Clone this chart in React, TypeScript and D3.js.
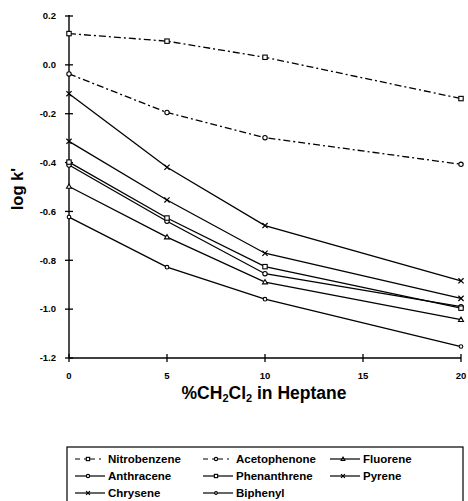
import React from "react";
import * as d3 from "d3";

const xValues = [0, 5, 10, 20];
const xTicks = [0, 5, 10, 15, 20];
const yTicks = [0.2, 0.0, -0.2, -0.4, -0.6, -0.8, -1.0, -1.2];

const seriesNames = ["Nitrobenzene", "Acetophenone", "Fluorene", "Anthracene", "Phenanthrene", "Pyrene", "Chrysene", "Biphenyl"];
const nitrobenzene = [0.128, 0.097, 0.031, -0.138];
const acetophenone = [-0.037, -0.195, -0.298, -0.407];
const fluorene = [-0.498, -0.705, -0.889, -1.043];
const anthracene = [-0.41, -0.64, -0.855, -0.99];
const phenanthrene = [-0.398, -0.627, -0.826, -0.996];
const pyrene = [-0.313, -0.553, -0.771, -0.956];
const chrysene = [-0.118, -0.419, -0.658, -0.884];
const biphenyl = [-0.623, -0.828, -0.959, -1.153];

const seriesValues = [nitrobenzene, acetophenone, fluorene, anthracene, phenanthrene, pyrene, chrysene, biphenyl];
const seriesMarkers = ["square", "circle", "triangle", "circle", "square", "x", "x", "dot"];
const seriesDashed = [true, true, false, false, false, false, false, false];

const FONT = "'Liberation Sans', Arial, Helvetica, sans-serif";
const DASH = "7,3,2,3";

function Marker({ type, x, y, s = 1 }: { type: string; x: number; y: number; s?: number }) {
  const sw = 1.1;
  if (type === "square")
    return <rect x={x - 2.2 * s} y={y - 2.2 * s} width={4.4 * s} height={4.4 * s} fill="white" stroke="black" strokeWidth={sw} />;
  if (type === "circle")
    return <circle cx={x} cy={y} r={2.2 * s} fill="white" stroke="black" strokeWidth={sw} />;
  if (type === "dot")
    return <circle cx={x} cy={y} r={1.8 * s} fill="white" stroke="black" strokeWidth={sw} />;
  if (type === "triangle")
    return <path d={`M${x},${y - 2.5 * s}L${x + 2.5 * s},${y + 1.8 * s}L${x - 2.5 * s},${y + 1.8 * s}Z`} fill="white" stroke="black" strokeWidth={sw} />;
  return (
    <path d={`M${x - 2.6 * s},${y - 2.6 * s}L${x + 2.6 * s},${y + 2.6 * s}M${x - 2.6 * s},${y + 2.6 * s}L${x + 2.6 * s},${y - 2.6 * s}`} stroke="black" strokeWidth={1.2} fill="none" />
  );
}

export default function App() {
  const W = 468, H = 501;
  const x = d3.scaleLinear().domain([0, 20]).range([69, 461]);
  const y = d3.scaleLinear().domain([-1.2, 0.2]).range([358, 16]);
  const line = d3.line<number>().x((_, i) => x(xValues[i])).y((d) => y(d));

  const legendCols = [75, 203, 330];
  const legendRows = [459, 476, 493];

  return (
    <svg width={W} height={H} style={{ position: "absolute", left: 0, top: 0, background: "white" }} fontFamily={FONT}>
      <rect x={0} y={0} width={W} height={H} fill="white" />
      {/* axes */}
      <line x1={x(0)} x2={x(0)} y1={y(0.2) - 1} y2={y(-1.2)} stroke="black" strokeWidth={1.4} />
      <line x1={x(0)} x2={x(20)} y1={y(-1.2)} y2={y(-1.2)} stroke="black" strokeWidth={1.4} />
      {yTicks.map((t) => (
        <g key={"y" + t}>
          <line x1={x(0) - 4} x2={x(0) + 4} y1={y(t)} y2={y(t)} stroke="black" strokeWidth={1.3} />
          <text x={56} y={y(t)} dy="0.35em" textAnchor="end" fontSize={9.5} fontWeight="bold">
            {d3.format(".1f")(t).replace("−", "-")}
          </text>
        </g>
      ))}
      {xTicks.map((t) => (
        <g key={"x" + t}>
          <line x1={x(t)} x2={x(t)} y1={y(-1.2) - 4} y2={y(-1.2) + 4} stroke="black" strokeWidth={1.3} />
          <text x={x(t)} y={376} dy="0.35em" textAnchor="middle" fontSize={9.5} fontWeight="bold">
            {t}
          </text>
        </g>
      ))}
      <text x={264} y={399} textAnchor="middle" fontSize={17.5} fontWeight="bold">
        %CH<tspan fontSize={11} dy={3}>2</tspan>
        <tspan dy={-3}>Cl</tspan>
        <tspan fontSize={11} dy={3}>2</tspan>
        <tspan dy={-3}> in Heptane</tspan>
      </text>
      <text transform="translate(23,189) rotate(-90)" textAnchor="middle" fontSize={16.5} fontWeight="bold">
        log k'
      </text>

      {/* series */}
      {seriesValues.map((vals, si) => (
        <g key={seriesNames[si]}>
          <path
            d={line(vals) || ""}
            fill="none"
            stroke="black"
            strokeWidth={1.3}
            strokeDasharray={seriesDashed[si] ? DASH : undefined}
          />
          {vals.map((v, i) => (
            <Marker key={i} type={seriesMarkers[si]} x={x(xValues[i])} y={y(v)} />
          ))}
        </g>
      ))}

      {/* legend */}
      <rect x={67} y={447} width={396} height={70} fill="none" stroke="black" strokeWidth={1.2} />
      {seriesNames.map((name, i) => {
        const col = i % 3;
        const row = Math.floor(i / 3);
        const lx = legendCols[col];
        const ly = legendRows[row];
        return (
          <g key={"leg" + name}>
            <line
              x1={lx}
              x2={lx + 30}
              y1={ly}
              y2={ly}
              stroke="black"
              strokeWidth={1.2}
              strokeDasharray={seriesDashed[i] ? "5,4,2,4" : undefined}
            />
            <Marker type={seriesMarkers[i]} x={lx + 13} y={ly} s={0.75} />
            <text x={lx + 33} y={ly} dy="0.35em" fontSize={11.5} fontWeight="bold">
              {name}
            </text>
          </g>
        );
      })}
    </svg>
  );
}
